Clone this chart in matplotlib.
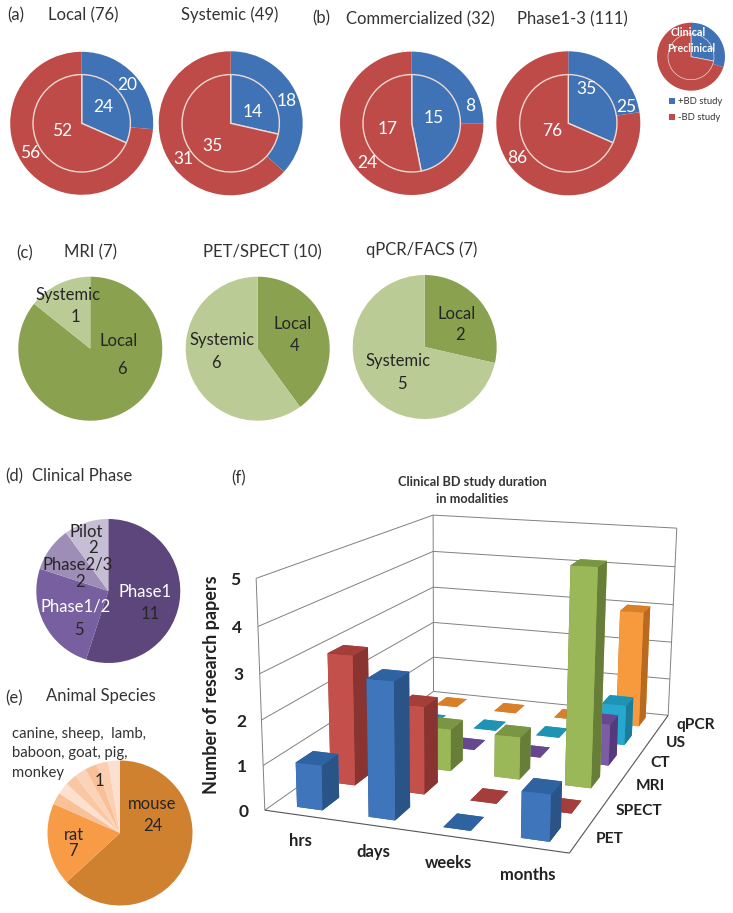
import numpy as np
import matplotlib
matplotlib.use("Agg")
import matplotlib.pyplot as plt
from mpl_toolkits.mplot3d.art3d import Line3DCollection

plt.rcParams["font.family"] = ["Lato", "DejaVu Sans"]

W, H = 733, 913

BLUE = "#3F73B6"
RED = "#BE4B48"
GREEN_D = "#8AA14F"
GREEN_L = "#BBCB95"

# (a), (b) outer ring / inner disc: +BD, -BD
local_outer = [20, 56]
local_inner = [24, 52]
systemic_outer = [18, 31]
systemic_inner = [14, 35]
comm_outer = [8, 24]
comm_inner = [15, 17]
phase_outer = [25, 86]
phase_inner = [35, 76]
legend_outer = [30, 70]
legend_inner = [28, 72]

# (c) local, systemic
mri_vals = [6, 1]
pet_vals = [4, 6]
qpcr_vals = [2, 5]

# (d)
phase_vals = [11, 5, 2, 2]
phase_cols = ["#5C467C", "#7860A0", "#9E8DB6", "#C6BED4"]

# (e)
species_vals = [24, 7, 1, 1, 1, 1, 1, 1, 1]
species_cols = ["#D0812F", "#F79B46", "#F9C197", "#FDE0D0", "#FAC7A5",
                "#FBD3B8", "#F9BF96", "#FBD0B2", "#FDDFCF"]

# (f)
durations = ["hrs", "days", "weeks", "months"]
modalities = ["PET", "SPECT", "MRI", "CT", "US", "qPCR"]
pet_bars = [1, 3, 0, 1]
spect_bars = [3, 2, 0, 0]
mri_bars = [0, 1, 1, 5]
ct_bars = [0, 0, 0, 1]
us_bars = [0, 0, 0, 1]
qpcr_bars = [0, 0, 0, 3]
bar_rows = [pet_bars, spect_bars, mri_bars, ct_bars, us_bars, qpcr_bars]
# front, side, top colour of each modality
bar_cols = [
    ("#3F75BA", "#2A5488", "#2F62A0"),
    ("#C4504C", "#8A3432", "#A33E3B"),
    ("#9BB858", "#667E38", "#7A9642"),
    ("#7D5CA6", "#55397A", "#654890"),
    ("#27A9CF", "#1A7D99", "#1F93B3"),
    ("#F79A3E", "#B96A1E", "#D87F28"),
]

fig = plt.figure(figsize=(W / 100, H / 100), dpi=100)


def pie_axes(cx, cy, r):
    ax = fig.add_axes([(cx - r) / W, 1 - (cy + r) / H, 2 * r / W, 2 * r / H])
    ax.set_aspect("equal")
    return ax


def ring_pie(cx, cy, r, r_in, outer, inner, lw=1.0):
    ax = pie_axes(cx, cy, r)
    ax.pie(outer, colors=[BLUE, RED], startangle=90, counterclock=False, radius=1)
    ax.pie(inner, colors=[BLUE, RED], startangle=90, counterclock=False,
           radius=r_in / r, wedgeprops=dict(edgecolor="#EFD9D2", linewidth=lw))
    ax.set_xlim(-1, 1)
    ax.set_ylim(-1, 1)


def plain_pie(cx, cy, r, vals, cols):
    ax = pie_axes(cx, cy, r)
    ax.pie(vals, colors=cols, startangle=90, counterclock=False, radius=1)
    ax.set_xlim(-1, 1)
    ax.set_ylim(-1, 1)


ring_pie(81.7, 123.3, 71.5, 48.7, local_outer, local_inner)
ring_pie(230.7, 123.3, 72, 48.7, systemic_outer, systemic_inner)
ring_pie(411.7, 123.3, 71.7, 48.7, comm_outer, comm_inner)
ring_pie(568.3, 123.3, 72, 48.7, phase_outer, phase_inner)
ring_pie(691, 56.7, 34, 23, legend_outer, legend_inner, lw=0.5)

plain_pie(90.3, 348.7, 72, mri_vals, [GREEN_D, GREEN_L])
plain_pie(257.7, 348.7, 72, pet_vals, [GREEN_D, GREEN_L])
plain_pie(424.7, 347, 72, qpcr_vals, [GREEN_D, GREEN_L])
plain_pie(108.3, 591, 72, phase_vals, phase_cols)
plain_pie(120, 833, 72.5, species_vals, species_cols)

# --- (f) 3D bars, projection fitted to the frame corners in pixels
ax3 = fig.add_axes([200 / W, 1 - 880 / H, 533 / W, 533 / H],
                   projection="3d", computed_zorder=False)
ax3.set_axis_off()
ax3.patch.set_alpha(0)
ax3.apply_aspect()

world = np.array([[0, 0, 0], [4, 0, 0], [4, 6, 0], [0, 6, 0],
                  [0, 0, 5], [0, 6, 5], [4, 6, 5]], float)
corners_px = np.array([[265, 810], [569.3, 853.3], [668.3, 715], [433.3, 691.7],
                       [256, 578.3], [433.3, 515], [676.7, 528.3]], float)
disp = np.column_stack([corners_px[:, 0], H - corners_px[:, 1]])
uv = ax3.transData.inverted().transform(disp)

rows = []
for (X, Y, Z), (u, v) in zip(world, uv):
    rows.append([X, Y, Z, 1, 0, 0, 0, 0, -u * X, -u * Y, -u * Z, -u])
    rows.append([0, 0, 0, 0, X, Y, Z, 1, -v * X, -v * Y, -v * Z, -v])
P = np.linalg.svd(np.array(rows))[2][-1].reshape(3, 4)
P = P / (P[2] @ np.array([2, 3, 2, 1]))
proj = np.vstack([P[0], P[1], P[2] - np.array([0, 0, 0, 1.0]), P[2]])
ax3.get_proj = lambda: proj

# walls and floor lines
wall_segs = []
for z in range(0, 6):
    wall_segs.append([(0, 0, z), (0, 6, z)])
    wall_segs.append([(0, 6, z), (4, 6, z)])
wall_segs.append([(0, 0, 0), (0, 0, 5)])
wall_segs.append([(0, 6, 0), (0, 6, 5)])
wall_segs.append([(4, 6, 0), (4, 6, 5)])
ax3.add_collection(Line3DCollection(wall_segs, colors="#808080", linewidths=0.7, zorder=1))
floor_segs = [[(0, 0, 0), (4, 0, 0)], [(4, 0, 0), (4, 6, 0)]]
ax3.add_collection(Line3DCollection(floor_segs, colors="#555555", linewidths=0.8, zorder=1))

bar_w, bar_d = 0.36, 0.5
for r, (vals, (front, side, top)) in enumerate(zip(bar_rows, bar_cols)):
    for c, v in enumerate(vals):
        ax3.bar3d(c + 0.51 - bar_w / 2, r + 0.5 - bar_d / 2, 0, bar_w, bar_d, v,
                  color=[top, top, front, front, side, side], shade=False,
                  zsort="average", zorder=10 + (5 - r) * 10 + c)

# --- text, in reference pixels
ov = fig.add_axes([0, 0, 1, 1])
ov.set_xlim(0, W)
ov.set_ylim(H, 0)
ov.axis("off")
ov.patch.set_alpha(0)


def label(x, y, s, size=12, color="#333333", **kw):
    kw.setdefault("ha", "center")
    ov.text(x, y, s, fontsize=size, color=color, va="center", **kw)


for x, y, s in [(16, 15, "(a)"), (83, 15, "Local (76)"), (230, 15, "Systemic (49)"),
                (321, 18, "(b)"), (420, 19, "Commercialized (32)"),
                (572, 19, "Phase1-3 (111)"),
                (25, 253, "(c)"), (91, 252, "MRI (7)"), (262, 252, "PET/SPECT (10)"),
                (422, 250, "qPCR/FACS (7)"),
                (14, 476, "(d)"), (82, 476, "Clinical Phase"),
                (14, 698, "(e)"), (101, 696, "Animal Species"),
                (239, 478, "(f)")]:
    label(x, y, s)

for x, y, s in [(127, 85, "20"), (103, 107, "24"), (62, 131, "52"), (30, 153, "56"),
                (287, 101, "18"), (253, 112, "14"), (212, 146, "35"), (183, 159, "31"),
                (470, 106, "8"), (434, 118, "15"), (388, 129, "17"), (367, 163, "24"),
                (586, 89, "35"), (626, 107, "25"), (552, 131, "76"), (517, 158, "86")]:
    label(x, y, s, color="white", size=12.5)

for x, y, s in [(68, 295, "Systemic"), (75, 317, "1"), (119, 341, "Local"), (122, 369, "6"),
                (293, 324, "Local"), (295, 346, "4"), (222, 340, "Systemic"), (216, 363, "6"),
                (457, 314, "Local"), (460, 335, "2"), (398, 361, "Systemic"), (402, 384, "5"),
                (150, 614, "11"), (79, 630, "5"), (78, 564, "Phase2/3"), (80, 582, "2"),
                (86, 532, "Pilot"), (93, 548, "2"), (152, 804, "mouse"), (153, 826, "24"),
                (74, 835, "rat"), (73, 851, "7"), (99, 781, "1")]:
    label(x, y, s, color="#262626")

label(145, 592, "Phase1", color="white")
label(76, 607, "Phase1/2", color="white")

for y, s in [(734, "canine, sheep,  lamb,"), (753, "baboon, goat, pig,"), (773, "monkey")]:
    label(12, y, s, size=10.7, ha="left")

label(688, 32, "Clinical", size=7.8, color="white", fontweight="bold")
label(691, 48, "Preclinical", size=7.6, color="white", fontweight="bold")
ov.scatter([672, 672], [101, 117], marker="s", s=22, color=[BLUE, RED], linewidths=0)
label(678, 101, "+BD study", size=6.8, ha="left")
label(678, 117, "-BD study", size=6.8, ha="left")

label(472, 482, "Clinical BD study duration", size=9.2, fontweight="bold")
label(472, 499, "in modalities", size=9.2, fontweight="bold")
label(211, 685, "Number of research papers", size=13, rotation=90, fontweight="bold", color="#222222")

tick_y = [812, 767, 722, 675, 628, 580]
tick_x = [244, 242, 241, 239, 237, 235]
for i in range(6):
    label(tick_x[i], tick_y[i], str(i), size=12.5, fontweight="bold", color="#222222")

cat_pos = [(300, 841), (373, 852), (448, 863), (528, 875)]
for (x, y), s in zip(cat_pos, durations):
    label(x, y, s, size=12, fontweight="bold", color="#222222")
mod_pos = [(610, 839), (639, 811), (650, 786), (660, 763), (676, 743), (696, 725)]
for (x, y), s in zip(mod_pos, modalities):
    label(x, y, s, size=11.2, fontweight="bold", color="#222222")

fig.savefig("out.png", dpi=100)
